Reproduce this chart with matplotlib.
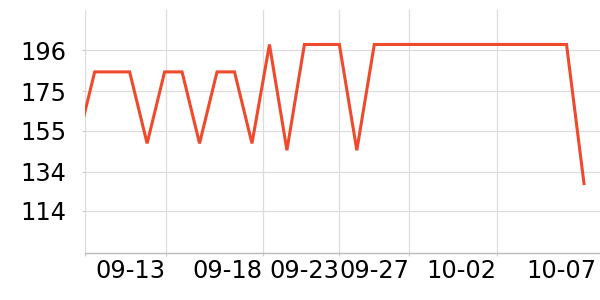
import matplotlib
matplotlib.use("Agg")
import matplotlib.pyplot as plt
import matplotlib.dates as mdates
import pandas as pd

# ---- data ----
dates = pd.date_range("2023-09-08", "2023-10-07", freq="D")
values = [148.5, 185, 185, 185, 148.5, 185, 185, 148.5, 185, 185,
          148.5, 199, 145, 199, 199, 199, 145] + [199] * 12 + [128]

ytick_vals = [114, 134, 155, 175, 196]
ytick_labels = ["114", "134", "155", "175", "196"]

xtick_times = ["2023-09-08 10:41", "2023-09-13 01:31", "2023-09-18 14:44",
               "2023-09-22 23:56", "2023-09-27 00:04", "2023-10-02 00:07",
               "2023-10-07 16:29"]
xtick_labels = ["", "09-13", "09-18", "09-23", "09-27", "10-02", "10-07"]

# ---- figure ----
fig = plt.figure(figsize=(6, 3), dpi=100)
ax = fig.add_axes([85 / 600, 47 / 300, 515 / 600, 243 / 300])

ax.plot(dates, values, color="#ee4a2b", linewidth=2.2, solid_joinstyle="miter", zorder=3)

ax.set_xlim(pd.Timestamp("2023-09-08 10:41"), pd.Timestamp("2023-10-07 21:58"))
ax.set_ylim(92.56, 216.6)

ax.set_yticks(ytick_vals, ytick_labels)
xt = [mdates.date2num(pd.Timestamp(t)) for t in xtick_times]
ax.set_xticks(xt, xtick_labels)
for lab in ax.get_xticklabels():
    lab.set_horizontalalignment("right")

ax.grid(True, color="#dddddd", linewidth=0.9, zorder=0)
ax.set_axisbelow(True)
ax.xaxis.get_gridlines()[-1].set_visible(False)

for s in ["top", "right", "left"]:
    ax.spines[s].set_visible(False)
ax.spines["bottom"].set_color("#bbbbbb")
ax.spines["bottom"].set_linewidth(1.0)

ax.tick_params(axis="y", length=2, color="#cccccc", labelsize=17.3, pad=11.5)
ax.tick_params(axis="x", length=2, color="#cccccc", labelsize=17.3, pad=2)
ax.xaxis.get_major_ticks()[-1].tick1line.set_visible(False)

fig.savefig("out.png", dpi=100)
